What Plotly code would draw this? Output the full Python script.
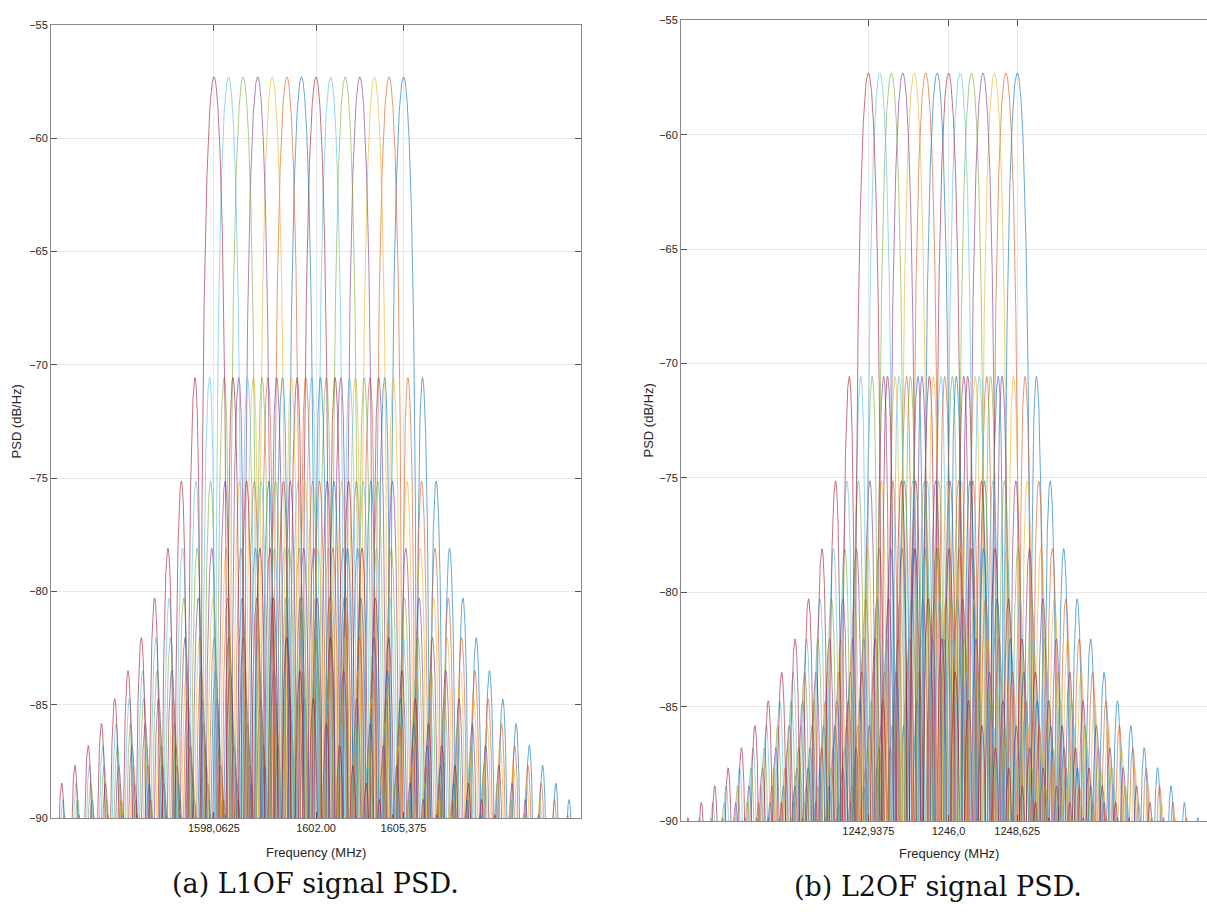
import numpy as np
import plotly.graph_objects as go

# GLONASS FDMA open-service signals: channel numbers and carrier plan
channels = [-7, -6, -5, -4, -3, -2, -1, 0, 1, 2, 3, 4, 5, 6]
l1_center_mhz = 1602.0
l1_spacing_mhz = 0.5625
l2_center_mhz = 1246.0
l2_spacing_mhz = 0.4375
chip_rate_mhz = 0.511           # BPSK(0.511) ranging code
peak_psd_db = -57.3             # main-lobe peak level (dB/Hz)

l1_tick_vals = [1598.0625, 1602.0, 1605.375]
l1_tick_text = ["1598,0625", "1602.00", "1605,375"]
l2_tick_vals = [1242.9375, 1246.0, 1248.625]
l2_tick_text = ["1242,9375", "1246,0", "1248,625"]
y_ticks = [-90, -85, -80, -75, -70, -65, -60, -55]

# MATLAB default line colour order
palette = ["#0072BD", "#D95319", "#EDB120", "#7E2F8E", "#77AC30", "#4DBEEE", "#A2142F"]

fig = go.Figure()


def add_band(center, spacing, xref, yref, x_max):
    span = 20 * chip_rate_mhz
    f = np.linspace(center - span, x_max, 9000)
    # channels drawn from highest to lowest, cycling the colour order
    for i, k in enumerate(sorted(channels, reverse=True)):
        fc = center + k * spacing
        s = np.sinc((f - fc) / chip_rate_mhz)
        psd = peak_psd_db + 10 * np.log10(np.maximum(s * s, 1e-12))
        psd = np.maximum(psd, -120)
        fig.add_trace(go.Scatter(
            x=f, y=psd, mode="lines", xaxis=xref, yaxis=yref,
            line=dict(color=palette[i % len(palette)], width=0.75),
            opacity=0.8, showlegend=False, hoverinfo="skip"))


W, H = 1207, 912
l1_span = 20 * chip_rate_mhz
l2_xmax = l2_center_mhz + (W - 949.3) / 26.1

add_band(l1_center_mhz, l1_spacing_mhz, "x", "y", l1_center_mhz + l1_span)
add_band(l2_center_mhz, l2_spacing_mhz, "x2", "y2", l2_xmax)

tick_font = dict(family="Arial", size=11, color="#262626")
axis_common = dict(
    showline=True, linecolor="#8a8a8a", linewidth=1,
    ticks="inside", ticklen=6, tickcolor="#555555", tickwidth=1,
    showgrid=True, gridcolor="#e8e8e8", gridwidth=1,
    zeroline=False, tickfont=tick_font,
)

fig.update_layout(
    width=W, height=H,
    margin=dict(l=0, r=0, t=0, b=0),
    paper_bgcolor="white", plot_bgcolor="white",
    font=dict(family="Arial"),
    xaxis=dict(domain=[51 / W, 581 / W],
               range=[l1_center_mhz - l1_span, l1_center_mhz + l1_span],
               tickvals=l1_tick_vals, ticktext=l1_tick_text,
               mirror="ticks", anchor="y", **axis_common),
    yaxis=dict(domain=[1 - 823 / H, 1 - 19 / H], range=[-90, -55],
               tickvals=y_ticks, mirror="ticks", anchor="x", **axis_common),
    xaxis2=dict(domain=[681 / W, 1.0],
                range=[l2_center_mhz - l1_span, l2_xmax],
                tickvals=l2_tick_vals, ticktext=l2_tick_text,
                mirror="ticks", anchor="y2", **axis_common),
    yaxis2=dict(domain=[1 - 826 / H, 1 - 14.5 / H], range=[-90, -55],
                tickvals=y_ticks, mirror=False, anchor="x2", **axis_common),
)

label_font = dict(family="Arial", size=13, color="#262626")
caption_font = dict(family="DejaVu Serif", size=27, color="#111111")


def text(x, y, s, font, angle=0):
    fig.add_annotation(x=x / W, y=1 - y / H, xref="paper", yref="paper",
                       text=s, showarrow=False, font=font, textangle=angle,
                       xanchor="center", yanchor="middle")


text(16, 421, "PSD (dB/Hz)", label_font, -90)
text(648, 420, "PSD (dB/Hz)", label_font, -90)
text(316, 858, "Frequency (MHz)", label_font)
text(949, 859, "Frequency (MHz)", label_font)
text(316, 889, "(a) L1OF signal PSD.", caption_font)
text(938, 892, "(b) L2OF signal PSD.", caption_font)

fig.write_html("out.html")
